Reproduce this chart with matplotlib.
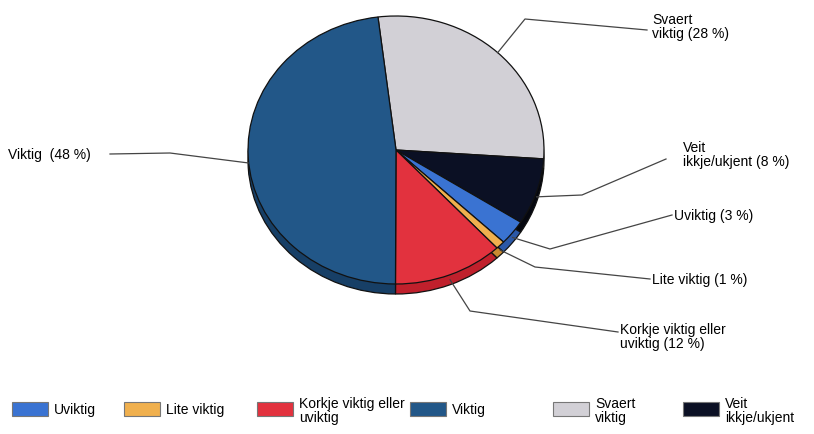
import numpy as np
import matplotlib
matplotlib.use("Agg")
import matplotlib.pyplot as plt
from matplotlib.patches import Rectangle

# data (clockwise from top)
labels = ["Svaert\nviktig", "Veit\nikkje/ukjent", "Uviktig", "Lite viktig",
          "Korkje viktig eller\nuviktig", "Viktig"]
values = [28, 8, 3, 1, 12, 48]
colors = ["#d2d0d6", "#0b1024", "#3a73d2", "#f0b04e", "#e2323e", "#225788"]
side_colors = ["#a9a7ad", "#05070f", "#2b58a6", "#c98a30", "#c0202c", "#173f66"]
legend_order = ["Uviktig", "Lite viktig", "Korkje viktig eller\nuviktig", "Viktig",
                "Svaert\nviktig", "Veit\nikkje/ukjent"]
label_text = ["Svaert\nviktig (28 %)", "Veit\nikkje/ukjent (8 %)", "Uviktig (3 %)",
              "Lite viktig (1 %)", "Korkje viktig eller\nuviktig (12 %)", "Viktig  (48 %)"]

plt.rcParams['font.family'] = ['Liberation Sans', 'DejaVu Sans']

W, H = 814, 435
fig = plt.figure(figsize=(W / 100, H / 100), dpi=100)

# pie geometry in pixels
cx, cy, rx, ry, depth = 396, 151, 148, 134, 10
start = 97

d = depth / ry
ax = fig.add_axes([(cx - rx) / W, 1 - (cy + ry + depth) / H, 2 * rx / W, (2 * ry + depth) / H])
# side rim
ax.pie(values, colors=side_colors, startangle=start, counterclock=False,
       center=(0, -d), wedgeprops=dict(edgecolor="#111111", linewidth=0.9))
ax.pie(values, colors=colors, startangle=start, counterclock=False,
       wedgeprops=dict(edgecolor="#111111", linewidth=0.9))
ax.set_aspect("auto")
ax.set_xlim(-1, 1)
ax.set_ylim(-1 - d, 1)
ax.axis("off")

# overlay for labels in pixel coords
ov = fig.add_axes([0, 0, 1, 1])
ov.set_xlim(0, W)
ov.set_ylim(H, 0)
ov.axis("off")

# elbow and text positions for leader lines
elbows = [(525, 20), (582, 196), (550, 250), (535, 268), (470, 312), (170, 154)]
ends = [(647, 31), (666, 160), (672, 216), (650, 280), (618, 333), (110, 155)]
txt_pos = [(652, 27), (683, 155), (674, 216), (652, 280), (620, 337), (8, 155)]

ang = start
for i, v in enumerate(values):
    mid = ang - v * 360 / 100 / 2
    ang -= v * 360 / 100
    t = np.deg2rad(mid)
    px = cx + rx * np.cos(t)
    py = cy - ry * np.sin(t)
    if np.sin(t) < 0:
        py += depth * 0.5
    ex, ey = elbows[i]
    lx, ly = ends[i]
    ov.plot([px, ex, lx], [py, ey, ly], color="#444444", lw=0.9)
    ov.text(txt_pos[i][0], txt_pos[i][1], label_text[i], fontsize=10,
            ha="left", va="center", linespacing=1.0)

# legend, laid out by hand like the original
leg_x = [12, 124, 257, 410, 553, 683]
leg_y = 410
for x, l in zip(leg_x, legend_order):
    c = colors[labels.index(l)]
    ov.add_patch(Rectangle((x, leg_y - 7), 36, 14, facecolor=c,
                           edgecolor="#777777", lw=0.8))
    ov.text(x + 42, leg_y if "\n" not in l else leg_y + 1, l, fontsize=10,
            ha="left", va="center", linespacing=0.95)

fig.savefig("out.png", dpi=100)
